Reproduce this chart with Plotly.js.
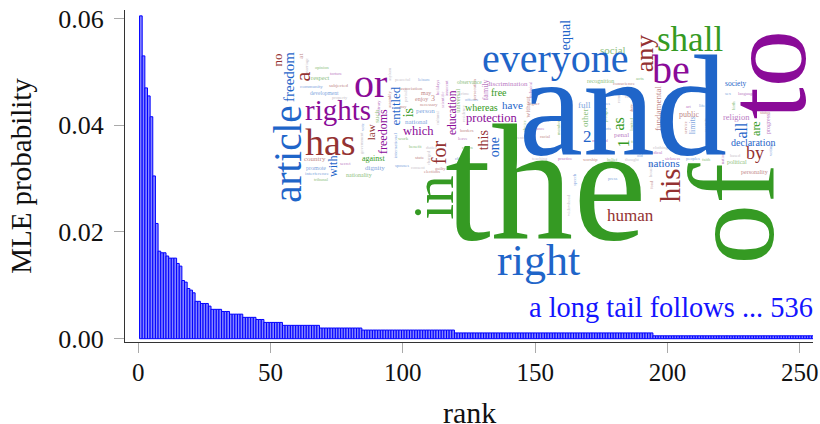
<!DOCTYPE html>
<html><head><meta charset="utf-8">
<script src="https://cdn.plot.ly/plotly-3.0.1.min.js"></script>
<style>html,body{margin:0;padding:0;background:#fff}#c{width:820px;height:424px}</style>
</head><body><div id="c"></div>
<script>
const probabilities = [
0.0605,0.0530,0.0470,0.0455,0.0416,0.0305,0.0216,0.0164,0.0161,0.0161,
0.0155,0.0151,0.0151,0.0151,0.0141,0.0136,0.0109,0.0106,0.0094,0.0091,
0.0086,0.0070,0.0070,0.0066,0.0066,0.0066,0.0061,0.0055,0.0055,0.0055,
0.0055,0.0051,0.0051,0.0051,0.0046,0.0046,0.0046,0.0046,0.0046,0.0040,
0.0040,0.0040,0.0040,0.0040,0.0036,0.0036,0.0036,0.00305,0.00305,0.00305,
0.00305,0.00305,0.00305,0.00305,0.0025,0.0025,0.0025,0.0025,0.0025,0.0025,
0.0025,0.0025,0.0025,0.0025,0.0025,0.0025,0.0025,0.0025,0.0020,0.0020,
0.0020,0.0020,0.0020,0.0020,0.0020,0.0020,0.0020,0.0020,0.0020,0.0020,
0.0020,0.0020,0.0020,0.0020,0.00162,0.00162,0.00162,0.00162,0.00162,0.00162,
0.00162,0.00162,0.00162,0.00162,0.00162,0.00162,0.00162,0.00162,0.00162,0.00162,
0.00162,0.00162,0.00162,0.00162,0.00162,0.00162,0.00162,0.00162,0.00162,0.00162,
0.00162,0.00162,0.00162,0.00162,0.00162,0.00162,0.00162,0.00162,0.00162,0.00108,
0.00108,0.00108,0.00108,0.00108,0.00108,0.00108,0.00108,0.00108,0.00108,0.00108,
0.00108,0.00108,0.00108,0.00108,0.00108,0.00108,0.00108,0.00108,0.00108,0.00108,
0.00108,0.00108,0.00108,0.00108,0.00108,0.00108,0.00108,0.00108,0.00108,0.00108,
0.00108,0.00108,0.00108,0.00108,0.00108,0.00108,0.00108,0.00108,0.00108,0.00108,
0.00108,0.00108,0.00108,0.00108,0.00108,0.00108,0.00108,0.00108,0.00108,0.00108,
0.00108,0.00108,0.00108,0.00108,0.00108,0.00108,0.00108,0.00108,0.00108,0.00108,
0.00108,0.00108,0.00108,0.00108,0.00108,0.00108,0.00108,0.00108,0.00108,0.00108,
0.00108,0.00108,0.00108,0.00108,0.00054,0.00054,0.00054,0.00054,0.00054,0.00054,
0.00054,0.00054,0.00054,0.00054,0.00054,0.00054,0.00054,0.00054,0.00054,0.00054,
0.00054,0.00054,0.00054,0.00054,0.00054,0.00054,0.00054,0.00054,0.00054,0.00054,
0.00054,0.00054,0.00054,0.00054,0.00054,0.00054,0.00054,0.00054,0.00054,0.00054,
0.00054,0.00054,0.00054,0.00054,0.00054,0.00054,0.00054,0.00054,0.00054,0.00054,
0.00054,0.00054,0.00054,0.00054,0.00054,0.00054,0.00054,0.00054,0.00054,0.00054,
0.00054,0.00054,0.00054,0.00054,0.00054];
const ranks = probabilities.map((_, i) => i + 1);
const xTicks = [0, 50, 100, 150, 200, 250];
const yTicks = [0, 0.02, 0.04, 0.06];
const yTickLabels = ['0.00', '0.02', '0.04', '0.06'];
const tailNote = 'a long tail follows ... 536';
const xTitle = 'rank';

const W = {b:'#1f65c9', g:'#359a23', p:'#8a0b98', r:'#943232',
           lb:'#7fa6de', lg:'#8cc07e', lp:'#bb7cc4', lr:'#bf8a8a', x:'#c9c4cc'};
// word, centre along the text, baseline, font size, rotation, colour key
const cloud = [
['the',546,239,165,0,'g'],['and',623,155,144,0,'b'],['of',214,772,122,-90,'g'],['to',75,805,115,-90,'p'],
['in',198,453,57,-90,'g'],['right',538,275,44,0,'b'],['everyone',555,72,40,0,'b'],['shall',690,51,35,0,'g'],
['be',671,83,40,0,'p'],['any',53,654,26,-90,'r'],['article',154,301,39,-90,'b'],['has',330,155,38,0,'r'],
['rights',338,120,29,0,'p'],['or',370,97,40,0,'p'],['human',630,221,17,0,'r'],['his',185,680,29,-90,'r'],
['for',152,446,20,-90,'r'],['this',140,488,14,-90,'r'],['one',147,499,14,-90,'b'],['by',755,159,18,0,'r'],
['a',77,310,22,-90,'r'],['freedom',77,294,15,-90,'b'],['no',60,282,13,-90,'r'],['protection',492,122,12.5,0,'p'],
['which',418,135,12.5,0,'p'],['entitled',106,399,13,-90,'b'],['freedoms',131,387,12,-90,'p'],['law',132,375,11,-90,'r'],
['with',166,337,12,-90,'b'],['is',113,414,14,-90,'g'],['education',113,456,11.5,-90,'p'],['whereas',481,111,10,0,'g'],
['have',512,109,11,0,'b'],['free',499,96,10,0,'g'],['equal',35,570,14,-90,'b'],['social',613,54,11,0,'lg'],
['2',587,142,17,0,'b'],['as',124,623,16,-90,'g'],['1',144,628,16,-90,'g'],['all',130,746,16,-90,'b'],
['are',128,760,12,-90,'g'],['declaration',753,146,10,0,'b'],['nations',664,167,11,0,'b'],['fundamental',108,661,9,-90,'lr'],
['full',584,108,9,0,'lb'],['other',117,588,9,-90,'lg'],['religion',736,120,8.5,0,'lp'],['society',735,86,7.5,0,'b'],
['public',689,117,8,0,'lr'],['against',373,161,8,0,'g'],['dignity',375,170,7,0,'lb'],['nationality',359,177,6,0,'lg'],
['country',315,161,7,0,'lr'],['promote',316,170,6,0,'lb'],['interference',317,175,5,0,'lb'],['development',324,95,5.5,0,'lb'],
['community',311,88,5,0,'lb'],['subjected',338,87,5,0,'lr'],['respect',320,80,6.5,0,'lg'],['association',411,90,5,0,'lr'],
['enjoy',421,101,6,0,'lr'],['may',426,95,6,0,'lr'],['person',425,113,7,0,'lb'],['national',416,124,7,0,'lb'],
['international',145,398,5,-90,'lb'],['3',433,101,8,0,'lr'],['state',420,159,5,0,'lr'],['such',116,379,7,-90,'lg'],
['work',403,140,5,0,'lg'],['necessary',429,106,4.5,0,'lr'],['family',90,488,8,-90,'lp'],['universal',101,460,6.5,-90,'lg'],
['discrimination',507,86,7,0,'lp'],['observance',469,84,5.5,0,'lg'],['without',107,530,7,-90,'lr'],['recognition',600,83,6,0,'lg'],
['conscience',624,85,5,0,'lr'],['acts',640,80,5,0,'lg'],['penal',621,137,7,0,'lp'],['personality',754,174,6,0,'lr'],
['political',737,164,6,0,'lg'],['limits',125,696,8,-90,'lb'],['progress',123,770,6,-90,'lp'],['at',56,303,7,-90,'lr']
];
// small fill words: word, centre x, centre y, rotation, colour key
const fill = [
['opinion',322,68,0,'lg'],['torture',336,74,0,'lp'],['marriage',306,66,-90,'x'],['property',340,97,0,'x'],
['slavery',377,90,-90,'x'],['asylum',389,75,-90,'x'],['arbitrary',378,108,-90,'lp'],['assembly',389,100,-90,'lr'],
['peaceful',403,80,0,'x'],['leisure',424,80,0,'lb'],['holidays',437,88,-90,'lp'],['periodic',406,95,-90,'x'],
['pay',403,107,0,'lr'],['cultural',437,118,-90,'x'],['scientific',442,100,-90,'lp'],['benefit',415,146,0,'lg'],
['duties',431,147,0,'x'],['spouses',402,165,0,'lb'],['consent',418,167,0,'x'],['elections',432,171,0,'lr'],
['vote',362,127,-90,'lb'],['government',361,143,-90,'x'],['secret',345,163,0,'lp'],['tribunal',321,180,0,'lg'],
['charged',428,158,-90,'x'],['guilty',440,168,0,'lr'],['innocent',446,88,-90,'lp'],['crime',464,93,0,'x'],
['offence',471,99,0,'lb'],['residence',463,114,-90,'x'],['borders',467,130,0,'lr'],['leave',463,139,0,'lp'],
['return',467,148,0,'lg'],['persecution',474,90,-90,'lr'],['children',462,158,0,'lb'],['mother',510,128,0,'lp'],
['parents',518,137,0,'x'],['choice',524,126,-90,'lg'],['technical',530,90,-90,'lp'],['higher',534,104,0,'lr'],
['tolerance',536,128,0,'lp'],['racial',545,136,0,'lr'],['peace',544,120,0,'lb'],['member',558,128,-90,'lg'],
['states',605,103,0,'lb'],['pledged',605,115,-90,'lg'],['mankind',600,140,0,'lp'],['rule',628,96,0,'x'],
['duty',631,108,-90,'lr'],['limited',632,125,-90,'lg'],['remedy',618,96,-90,'x'],['courts',605,128,0,'lb'],
['forms',636,142,0,'lg'],['service',685,128,-90,'lr'],['art',688,107,0,'lp'],['life',702,105,0,'lb'],
['security',706,125,-90,'x'],['race',712,148,0,'lr'],['sex',728,93,0,'lb'],['language',746,93,0,'lp'],
['birth',733,106,-90,'lg'],['status',765,113,0,'lr'],['based',735,155,0,'x'],['nation',722,158,-90,'lp'],
['peoples',693,158,0,'lb'],['faith',706,160,0,'lg'],['teaching',540,158,0,'x'],['practice',565,158,0,'lp'],
['worship',590,160,0,'lr'],['belief',612,160,0,'lg'],['thought',632,160,0,'x'],['press',612,178,0,'lb'],
['speech',575,180,-90,'lb'],['medical',655,152,0,'lp'],['housing',650,170,-90,'x'],['food',651,185,-90,'lr'],
['clothing',660,148,0,'x'],['sickness',672,158,0,'lp'],['old',640,155,0,'lb'],['age',552,165,0,'lr'],
['widowhood',568,205,-90,'x'],['voting',770,150,-90,'lb']
];

function px2paper(x, y) { return {x: (x - 125) / 688, y: (342 - y) / 332}; }
const FONT = '"Liberation Serif", serif';
function note(text, p, size, rot, color) {
  return {text, x: p.x, y: p.y, xref: 'paper', yref: 'paper', xanchor: 'center', yanchor: 'middle',
    showarrow: false, textangle: rot, borderpad: 0, font: {family: FONT, size, color}};
}
function wordAnnotation(w) {
  const [text, along, base, size, rot, key] = w;
  const off = 0.3375 * size;
  const p = rot === 0 ? px2paper(along, base - off) : px2paper(base - off, along);
  return note(text, p, size, rot, W[key]);
}
const annotations = fill.map(f => note(f[0], px2paper(f[1], f[2]), 4.5, f[3], W[f[4]]))
  .concat(cloud.slice().reverse().map(wordAnnotation));
annotations.push(note(tailNote, px2paper(671, 307), 28.4, 0, '#1414ff'));
annotations.push(note(xTitle, px2paper(469, 412), 30, 0, '#111'));

Plotly.newPlot('c', [{
  type: 'bar', x: ranks, y: probabilities, width: 1,
  marker: {color: '#8585ff', line: {color: '#0000ff', width: 1}}, hoverinfo: 'skip'
}], {
  width: 820, height: 424, margin: {l: 125, r: 7, t: 10, b: 82, pad: 0},
  paper_bgcolor: '#fff', plot_bgcolor: '#fff', showlegend: false, bargap: 0,
  font: {family: FONT, color: '#111'},
  xaxis: {range: [-5, 255], tickvals: xTicks, ticktext: xTicks.map(String), ticks: 'outside', ticklen: 10, tickwidth: 1,
    tickcolor: '#aaa', showline: true, linecolor: '#333', linewidth: 1, showgrid: false, zeroline: false,
    tickfont: {family: FONT, size: 25, color: '#111'}, ticklabelstandoff: -2, automargin: false},
  yaxis: {range: [-0.00062, 0.0616], tickvals: yTicks, ticktext: yTickLabels, ticks: 'outside', ticklen: 10, tickwidth: 1,
    tickcolor: '#aaa', showline: true, linecolor: '#333', linewidth: 1, showgrid: false, zeroline: false,
    tickfont: {family: FONT, size: 26, color: '#111'}, ticklabelstandoff: 5,
    title: {text: 'MLE probability', font: {family: FONT, size: 29, color: '#111'}, standoff: 18}, automargin: false},
  annotations
}, {displayModeBar: false, staticPlot: true});
</script></body></html>
